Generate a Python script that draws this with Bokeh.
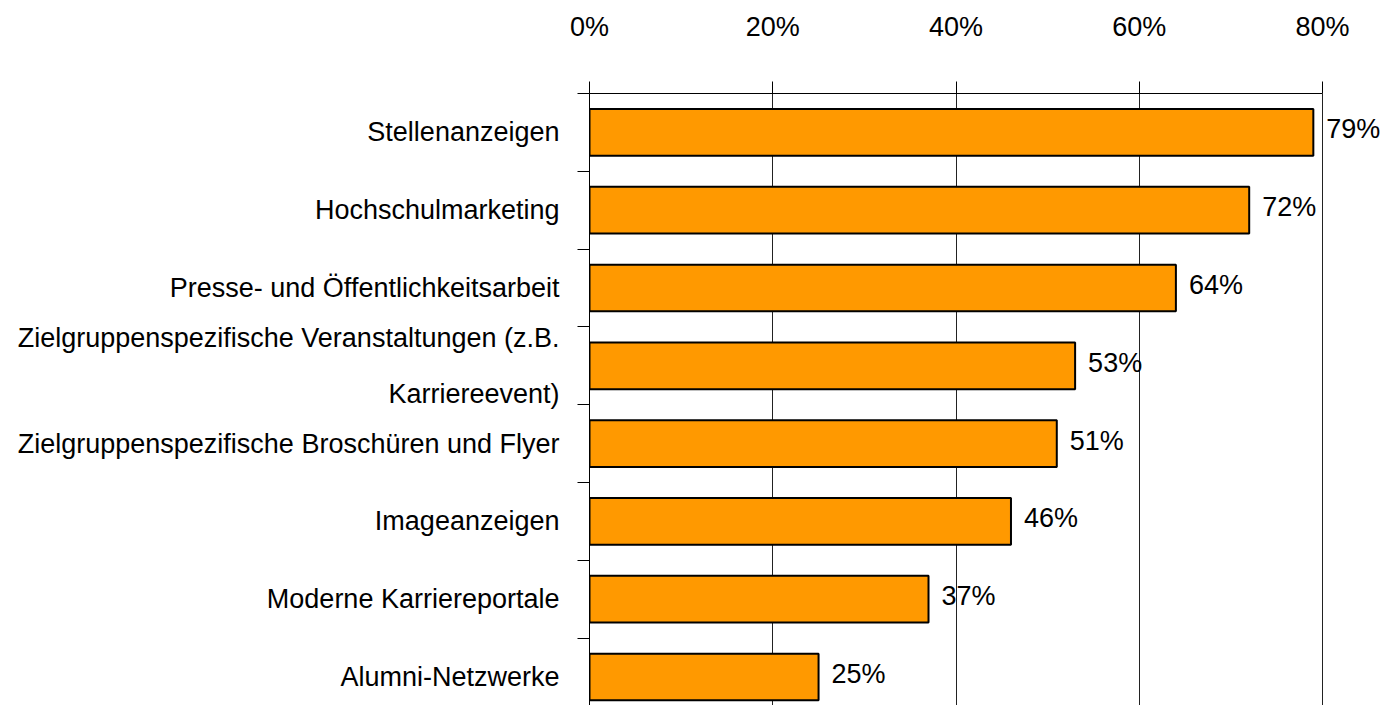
from bokeh.plotting import figure
from bokeh.models import Range1d, FixedTicker, LabelSet, ColumnDataSource
from bokeh.core.properties import value
from bokeh.embed import file_html
from bokeh.resources import INLINE

categories = [
    "Stellenanzeigen",
    "Hochschulmarketing",
    "Presse- und Öffentlichkeitsarbeit",
    "Zielgruppenspezifische Veranstaltungen (z.B.\nKarriereevent)",
    "Zielgruppenspezifische Broschüren und Flyer",
    "Imageanzeigen",
    "Moderne Karriereportale",
    "Alumni-Netzwerke",
]
values = [79, 72, 64, 53, 51, 46, 37, 25]
x_ticks = [0, 20, 40, 60, 80]
x_tick_labels = ["0%", "20%", "40%", "60%", "80%"]

FONT = "Liberation Sans"
FS = "27px"

n = len(categories)
ypos = [n - 0.5 - i for i in range(n)]
labels = [f"{v}%" for v in values]

src = ColumnDataSource(dict(y=ypos, v=values, lab=labels))

W, H = 1385, 705
LEFT, TOP = 589, 93
px_per_pct = (1322 - 589) / 80.0
x_end = (W - LEFT) / px_per_pct
band_px = 77.8
y_start = n - (H - TOP) / band_px

p = figure(
    width=W, height=H,
    x_range=Range1d(0, x_end), y_range=Range1d(y_start, n),
    output_backend="svg", toolbar_location=None,
    x_axis_location="above",
    min_border_left=LEFT, min_border_right=0, min_border_top=TOP, min_border_bottom=0,
)
p.outline_line_color = None
p.background_fill_color = "white"
p.border_fill_color = "white"

p.hbar(y="y", right="v", left=0, height=0.6, source=src,
       fill_color="#FF9900", line_color="#000000", line_width=2)

ls = LabelSet(x="v", y="y", text="lab", source=src, x_offset=13, y_offset=3,
              text_font=value(FONT), text_font_size=value(FS),
              text_baseline="middle", text_align="left", text_color="#000000")
p.add_layout(ls)

# top axis
xa = p.xaxis[0]
xa.ticker = FixedTicker(ticks=x_ticks)
xa.bounds = (0, 80)
xa.major_label_overrides = {t: l for t, l in zip(x_ticks, x_tick_labels)}
xa.major_tick_out = 12
xa.major_tick_in = 0
xa.minor_tick_line_color = None
xa.axis_line_color = "#000000"
xa.major_tick_line_color = "#000000"
xa.major_label_text_font = FONT
xa.major_label_text_font_size = FS
xa.major_label_text_color = "#000000"
xa.major_label_standoff = 40

# left axis
ya = p.yaxis[0]
ya.ticker = FixedTicker(ticks=ypos, minor_ticks=list(range(0, n + 1)))
ya.major_label_overrides = {y: c for y, c in zip(ypos, categories)}
ya.major_tick_line_color = None
ya.major_tick_out = 0
ya.major_tick_in = 0
ya.minor_tick_out = 12
ya.minor_tick_in = 0
ya.minor_tick_line_color = "#000000"
ya.axis_line_color = "#000000"
ya.major_label_text_font = FONT
ya.major_label_text_font_size = FS
ya.major_label_text_color = "#000000"
ya.major_label_text_line_height = 1.85
ya.major_label_standoff = 18

p.xgrid.ticker = FixedTicker(ticks=x_ticks)
p.xgrid.grid_line_color = "#222222"
p.xgrid.grid_line_width = 1
p.ygrid.grid_line_color = None

open("out.html", "w").write(file_html(p, INLINE))
